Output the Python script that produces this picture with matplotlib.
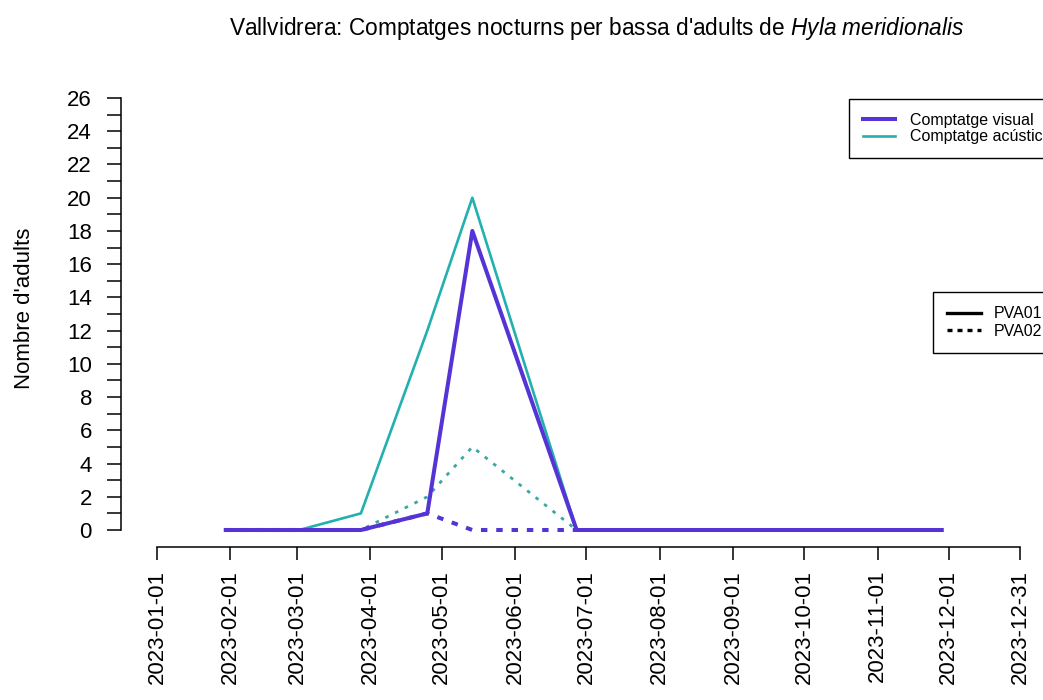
import matplotlib
matplotlib.use('Agg')
import matplotlib.pyplot as plt
from matplotlib.lines import Line2D
import pandas as pd

plt.rcParams['font.family'] = ['Liberation Sans', 'DejaVu Sans']
plt.rcParams['mathtext.fontset'] = 'custom'
plt.rcParams['mathtext.it'] = 'Liberation Sans:italic'
plt.rcParams['mathtext.rm'] = 'Liberation Sans'

# dates of the night counts
dates = ['2023-01-30', '2023-03-02', '2023-03-28', '2023-04-25',
         '2023-05-14', '2023-06-27', '2023-11-28']
visual_pva01 = [0, 0, 0, 1, 18, 0, 0]
acoustic_pva01 = [0, 0, 1, 12, 20, 0, 0]
visual_pva02 = [0, 0, 0, 1, 0, 0, 0]
acoustic_pva02 = [0, 0, 0, 2, 5, 0, 0]

tick_dates = ['2023-01-01', '2023-02-01', '2023-03-01', '2023-04-01', '2023-05-01',
              '2023-06-01', '2023-07-01', '2023-08-01', '2023-09-01', '2023-10-01',
              '2023-11-01', '2023-12-01', '2023-12-31']

PURPLE = '#5534d6'
TEAL = '#22b0b0'

W, H = 1043, 700
PT = 72 / 100  # pixels -> points
fig = plt.figure(figsize=(W / 100, H / 100), dpi=100)
ax = fig.add_axes([157 / W, (H - 530) / H, (1020 - 157) / W, (530 - 98) / H])

d = pd.to_datetime(dates)
ax.plot(d, acoustic_pva01, color=TEAL, lw=1.9, clip_on=False, zorder=3)
ax.plot(d, visual_pva01, color=PURPLE, lw=2.9, clip_on=False, zorder=4)
ax.plot(d[:6], acoustic_pva02[:6], color='#3aa8a2', lw=2.0, ls=(0, (1.3, 2.6)),
        clip_on=False, zorder=2)
ax.plot(d[:6], visual_pva02[:6], color=PURPLE, lw=2.9, ls=(0, (1.6, 2.2)),
        clip_on=False, zorder=2)

ticks = pd.to_datetime(tick_dates)
ax.set_xlim(ticks[0], ticks[-1])
ax.set_ylim(0, 26)

for s in ['top', 'right']:
    ax.spines[s].set_visible(False)
ax.spines['left'].set_position(('outward', 36 * PT))
ax.spines['bottom'].set_position(('outward', 17 * PT))
ax.spines['left'].set_bounds(0, 26)
ax.spines['left'].set_linewidth(1.1)
ax.spines['bottom'].set_linewidth(1.1)

ax.set_yticks(range(0, 27, 2))
ax.set_yticks(range(1, 27, 2), minor=True)
ax.tick_params(axis='y', which='both', length=14 * PT, width=1.1, labelsize=16,
               pad=15 * PT)
ax.set_xticks(ticks)
ax.set_xticklabels(tick_dates, rotation=90, fontsize=16)
ax.tick_params(axis='x', length=13 * PT, width=1.1, pad=10 * PT)

fig.text(25 / W, 1 - 308 / H, "Nombre d'adults", rotation=90, ha='center',
         va='center', fontsize=16)

fig.text(597 / W, 1 - 28 / H,
         "Vallvidrera: Comptatges nocturns per bassa d'adults de $\\it{Hyla\\ meridionalis}$",
         ha='center', va='center', fontsize=16.3)

h1 = [Line2D([], [], color=PURPLE, lw=2.9), Line2D([], [], color=TEAL, lw=1.9)]
leg1 = fig.legend(h1, ['Comptatge visual', 'Comptatge acústic'], loc='upper left',
                  bbox_to_anchor=(849 / W, 1 - 99 / H), fontsize=11.5,
                  fancybox=False, edgecolor='black', framealpha=1, borderaxespad=0,
                  handlelength=2.0, handletextpad=1.0, labelspacing=0.1, borderpad=0.85)
leg1.get_frame().set_linewidth(1.0)

h2 = [Line2D([], [], color='black', lw=2.4),
      Line2D([], [], color='black', lw=2.4, ls=(0, (1.5, 1.5)))]
leg2 = fig.legend(h2, ['PVA01', 'PVA02'], loc='upper left',
                  bbox_to_anchor=(933 / W, 1 - 292 / H), fontsize=11.5,
                  fancybox=False, edgecolor='black', framealpha=1, borderaxespad=0,
                  handlelength=2.1, handletextpad=0.8, labelspacing=0.15, borderpad=0.9)
leg2.get_frame().set_linewidth(1.0)

fig.savefig('out.png', dpi=100)
